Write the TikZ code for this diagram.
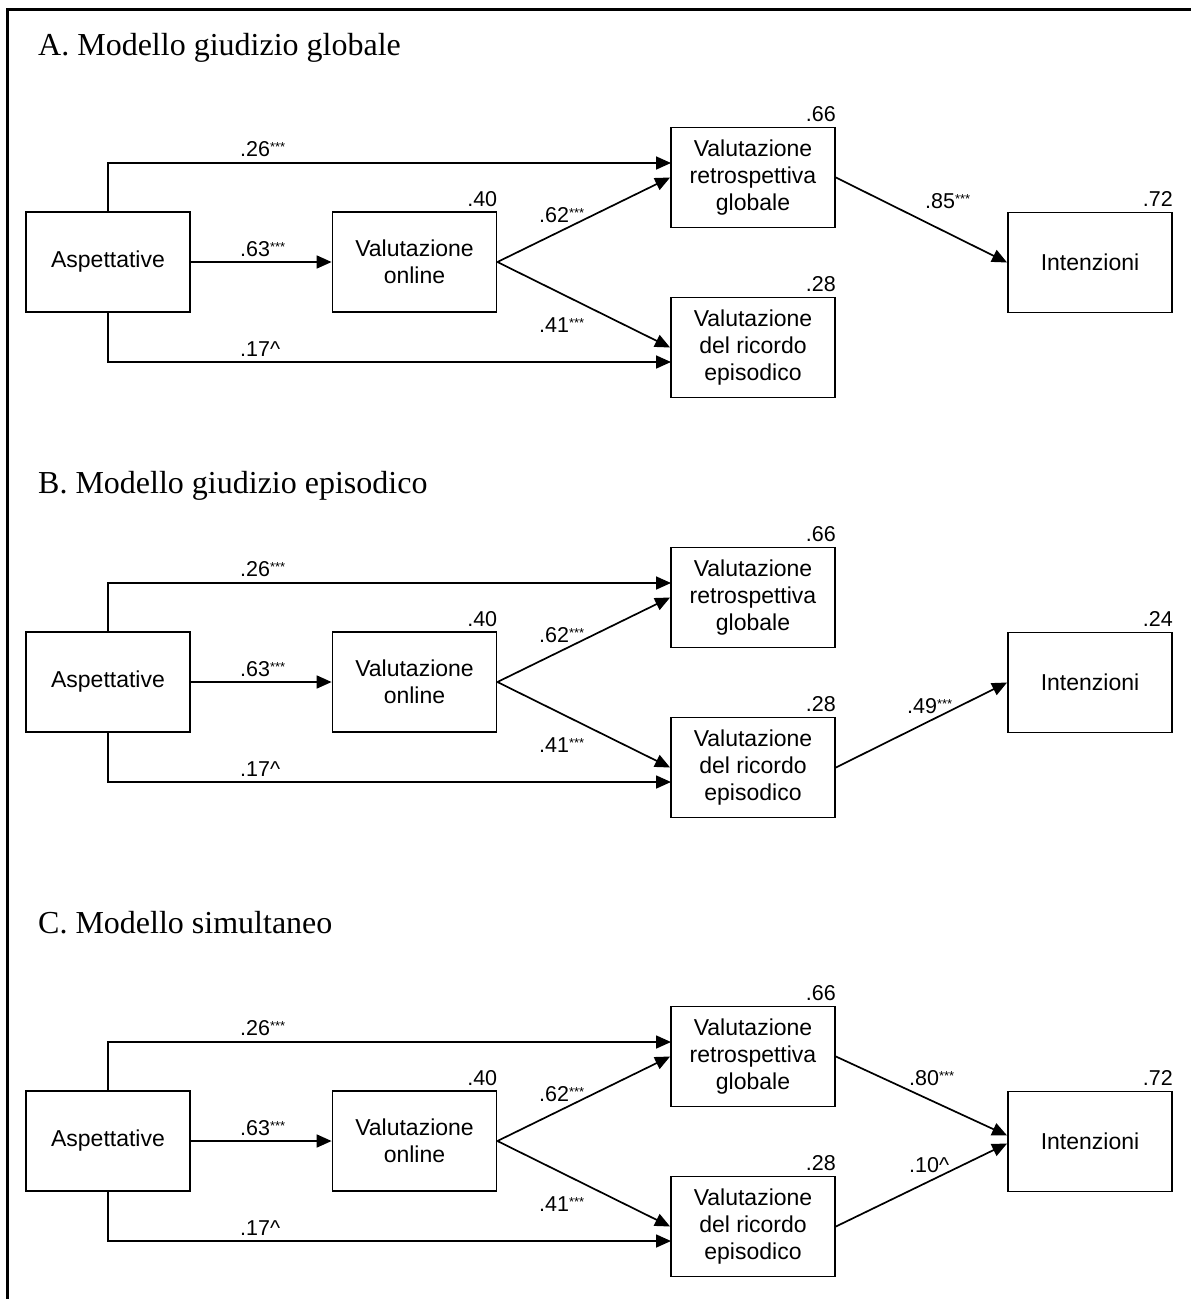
\documentclass[tikz,border=0pt]{standalone}
\usepackage{fontspec}
\setmainfont{Liberation Serif}
\newfontfamily\arialf{Liberation Sans}
\usetikzlibrary{arrows.meta}

\newcommand\stars{\raisebox{5pt}{\fontsize{13}{13}\selectfont ***}}

\tikzset{
  box/.style={draw, line width=1.8pt, minimum width=164pt, minimum height=100pt,
    inner sep=0pt, align=center, font=\arialf\fontsize{23}{27}\selectfont},
  conn/.style={line width=1.7pt, -{Triangle[length=15pt,width=13pt]}},
  lab/.style={inner sep=0pt, anchor=base west, font=\arialf\fontsize{21.5}{21.5}\selectfont},
  rsq/.style={inner sep=0pt, anchor=south east, font=\arialf\fontsize{21.5}{21.5}\selectfont},
  ttl/.style={inner sep=0pt, anchor=base west, font=\fontsize{32}{32}\selectfont},
}

\newcommand\drawmodel[3]{%
\begin{scope}[shift={(0,#2)}]
  \node[box] (#1asp) at (108,262) {Aspettative};
  \node[box] (#1onl) at (414.5,262) {Valutazione\\online};
  \node[box] (#1ret) at (753,177.5) {Valutazione\\retrospettiva\\globale};
  \node[box] (#1epi) at (753,347.5) {Valutazione\\del ricordo\\episodico};
  \node[box] (#1int) at (1090,262.5) {Intenzioni};
  \node[rsq] (#1ronl) at ([yshift=4.5pt]#1onl.north east) {.40};
  \node[rsq] (#1rret) at ([yshift=4.5pt]#1ret.north east) {.66};
  \node[rsq] (#1repi) at ([yshift=4.5pt]#1epi.north east) {.28};
  \node[rsq] (#1rint) at ([yshift=4.5pt]#1int.north east) {#3};
  \coordinate (#1tin) at (671,163);
  \coordinate (#1bin) at (671,362);
  \draw[conn] (#1asp.north) |- (#1tin);
  \draw[conn] (#1asp.south) |- (#1bin);
  \draw[conn] (#1asp.east) -- (#1onl.west);
  \draw[conn] (#1onl.east) -- (#1ret.west);
  \draw[conn] (#1onl.east) -- (#1epi.west);
  \node[lab] (#1l26) at (240,156) {.26\stars};
  \node[lab] (#1l63) at (240,256) {.63\stars};
  \node[lab] (#1l17) at (240,356) {.17\textasciicircum};
  \node[lab] (#1l62) at (539,222) {.62\stars};
  \node[lab] (#1l41) at (539,332) {.41\stars};
\end{scope}}

\begin{document}
\begin{tikzpicture}[x=1pt,y=-1pt]
  \useasboundingbox (0,0) rectangle (1191,1299);
  \draw[line width=2.5pt] (7.5,1299) -- (7.5,9.5) -- (1191,9.5);

  \node[ttl] (tA) at (38,55) {A. Modello giudizio globale};
  \node[ttl] (tB) at (38,493) {B. Modello giudizio episodico};
  \node[ttl] (tC) at (38,933) {C. Modello simultaneo};

  \drawmodel{A}{0}{.72}
  \drawmodel{B}{420}{.24}
  \drawmodel{C}{879}{.72}

  \draw[conn] (Aret.east) -- (Aint.west);
  \node[lab] (Al85) at (925,208) {.85\stars};

  \draw[conn] (Bepi.east) -- (Bint.west);
  \node[lab] (Bl49) at (907,713) {.49\stars};

  \draw[conn] (Cret.east) -- ([yshift=6pt]Cint.west);
  \draw[conn] (Cepi.east) -- ([yshift=-2pt]Cint.west);
  \node[lab] (Cl80) at (909,1085) {.80\stars};
  \node[lab] (Cl10) at (909,1172) {.10\textasciicircum};
\end{tikzpicture}
\end{document}
